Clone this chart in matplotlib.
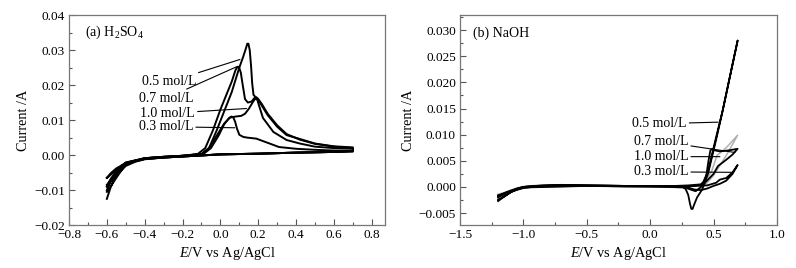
import numpy as np
import matplotlib
matplotlib.use('Agg')
import matplotlib.pyplot as plt
from matplotlib.ticker import MultipleLocator

plt.rcParams['font.family'] = ['Liberation Serif', 'DejaVu Serif']
plt.rcParams['mathtext.fontset'] = 'custom'
plt.rcParams['mathtext.rm'] = 'Liberation Serif'
plt.rcParams['mathtext.it'] = 'Liberation Serif:italic'

# ---------------- (a) H2SO4 : full CV loops (forward + reverse) ----------------
h_05_x = [-0.6, -0.58, -0.55, -0.5, -0.45, -0.4, -0.3, -0.2, -0.1, 0.0, 0.2, 0.4, 0.6, 0.7,
          0.7, 0.6, 0.5, 0.42, 0.35, 0.3, 0.25, 0.22, 0.2, 0.185, 0.175, 0.168, 0.162, 0.155, 0.148, 0.142, 0.135, 0.12,
          0.1, 0.06, 0.02, -0.02, -0.06, -0.1, -0.2, -0.3, -0.4, -0.5, -0.6]
h_05_y = [-0.0125, -0.0092, -0.0058, -0.0031, -0.0019, -0.0012, -0.0007, -0.0004, -0.0001, 0.0002, 0.0004, 0.0007, 0.0009, 0.001,
          0.0022, 0.0025, 0.0033, 0.0046, 0.0057, 0.0081, 0.0114, 0.0140, 0.0158, 0.0166, 0.0172, 0.0205, 0.0255, 0.0300, 0.0318, 0.0318, 0.0305, 0.0280,
          0.025, 0.018, 0.0125, 0.007, 0.002, 0.0003, -0.0002, -0.0005, -0.0009, -0.0025, -0.0105]

h_07_x = [-0.6, -0.58, -0.55, -0.5, -0.45, -0.4, -0.3, -0.2, -0.1, 0.0, 0.2, 0.4, 0.6, 0.7,
          0.7, 0.6, 0.5, 0.42, 0.35, 0.3, 0.25, 0.22, 0.2, 0.19, 0.18, 0.165, 0.145, 0.13, 0.118, 0.108, 0.098, 0.09, 0.08,
          0.06, 0.03, 0.0, -0.04, -0.08, -0.12, -0.2, -0.3, -0.4, -0.5, -0.6]
h_07_y = [-0.010, -0.0075, -0.0050, -0.0028, -0.0018, -0.0011, -0.0007, -0.0004, -0.0001, 0.0002, 0.0004, 0.0007, 0.0009, 0.0011,
          0.0020, 0.0024, 0.0032, 0.0044, 0.0060, 0.0085, 0.0118, 0.0145, 0.0160, 0.0165, 0.0163, 0.0153, 0.0150, 0.0160, 0.0200, 0.0235, 0.0252, 0.0252, 0.0243,
          0.021, 0.017, 0.013, 0.007, 0.002, 0.0003, -0.0002, -0.0005, -0.0009, -0.0023, -0.009]

h_10_x = [-0.6, -0.58, -0.55, -0.5, -0.45, -0.4, -0.3, -0.2, -0.1, 0.0, 0.2, 0.4, 0.6, 0.7,
          0.7, 0.6, 0.5, 0.42, 0.35, 0.28, 0.225, 0.205, 0.195, 0.185, 0.17, 0.15, 0.13, 0.11, 0.08, 0.05,
          0.02, -0.02, -0.06, -0.1, -0.2, -0.3, -0.4, -0.5, -0.6]
h_10_y = [-0.009, -0.0068, -0.0046, -0.0026, -0.0017, -0.0011, -0.0007, -0.0004, -0.0001, 0.0002, 0.0004, 0.0007, 0.0009, 0.0012,
          0.0018, 0.0020, 0.0024, 0.0033, 0.0043, 0.0066, 0.0106, 0.0140, 0.0158, 0.0162, 0.0150, 0.0132, 0.0118, 0.0112, 0.0110, 0.0107,
          0.009, 0.0055, 0.002, 0.0003, -0.0002, -0.0005, -0.0009, -0.0022, -0.0085]

h_03_x = [-0.6, -0.58, -0.55, -0.5, -0.45, -0.4, -0.3, -0.2, -0.1, 0.0, 0.2, 0.4, 0.6, 0.7,
          0.7, 0.6, 0.5, 0.4, 0.31, 0.25, 0.19, 0.14, 0.12, 0.1, 0.088, 0.078, 0.068, 0.058, 0.045, 0.02,
          -0.01, -0.05, -0.09, -0.2, -0.3, -0.4, -0.5, -0.6]
h_03_y = [-0.0065, -0.0052, -0.0038, -0.0023, -0.0016, -0.0011, -0.0007, -0.0004, -0.0001, 0.0002, 0.0004, 0.0007, 0.0009, 0.0012,
          0.0012, 0.0013, 0.0015, 0.0018, 0.0023, 0.0035, 0.0047, 0.0050, 0.0052, 0.0058, 0.0075, 0.0095, 0.0108, 0.0110, 0.0105, 0.0088,
          0.0055, 0.002, 0.0003, -0.0002, -0.0005, -0.0009, -0.0021, -0.0065]

# ---------------- (b) NaOH ----------------
n_05_x = [-1.2, -1.15, -1.1, -1.05, -1.0, -0.9, -0.7, -0.5, -0.2, 0.0, 0.2, 0.3, 0.4, 0.42, 0.456, 0.52, 0.572, 0.63, 0.69,
          0.69, 0.63, 0.572, 0.52, 0.456, 0.41, 0.37, 0.345, 0.335, 0.325, 0.315, 0.3, 0.28, 0.25, 0.1, -0.2, -0.5, -0.8, -1.0, -1.05, -1.1, -1.15, -1.2]
n_05_y = [-0.0027, -0.0018, -0.0010, -0.0004, 0.0, 0.0002, 0.0004, 0.0003, 0.0002, 0.0002, 0.0002, 0.0003, 0.0005, 0.0010, 0.0030, 0.0095, 0.0146, 0.0212, 0.0280,
          0.0280, 0.0212, 0.0146, 0.0090, 0.0025, -0.0005, -0.0020, -0.0035, -0.0042, -0.0042, -0.0033, -0.0015, -0.0004, 0.0001, 0.0001, 0.0001, 0.0002, 0.0002, -0.0001, -0.0005, -0.0010, -0.0018, -0.0024]

n_07_x = [-1.2, -1.15, -1.1, -1.05, -1.0, -0.9, -0.7, -0.5, -0.2, 0.0, 0.2, 0.35, 0.42, 0.5, 0.535, 0.6, 0.65, 0.69,
          0.69, 0.62, 0.55, 0.51, 0.49, 0.475, 0.46, 0.445, 0.43, 0.4, 0.36, 0.32, 0.25, 0.0, -0.5, -0.9, -1.0, -1.1, -1.2]
n_07_y = [-0.0020, -0.0014, -0.0008, -0.0003, 0.0, 0.0002, 0.0004, 0.0003, 0.0002, 0.0002, 0.0002, 0.0002, 0.0005, 0.0025, 0.0040, 0.0052, 0.0062, 0.0073,
          0.0073, 0.0070, 0.0068, 0.0070, 0.0073, 0.0070, 0.0050, 0.0025, 0.0010, 0.0000, -0.0008, -0.0005, 0.0001, 0.0001, 0.0002, 0.0001, -0.0002, -0.0009, -0.0017]

n_10_x = [-1.2, -1.15, -1.1, -1.05, -1.0, -0.9, -0.7, -0.5, -0.2, 0.0, 0.2, 0.35, 0.42, 0.485, 0.527, 0.6, 0.69,
          0.69, 0.6, 0.5, 0.45, 0.4, 0.35, 0.3, 0.0, -0.5, -1.0, -1.1, -1.2]
n_10_y = [-0.0016, -0.0011, -0.0006, -0.0002, 0.0001, 0.0003, 0.0004, 0.0003, 0.0002, 0.0002, 0.0002, 0.0002, 0.0006, 0.0030, 0.0060, 0.0075, 0.0099,
          0.0099, 0.0060, 0.0022, 0.0008, -0.0002, -0.0008, -0.0002, 0.0001, 0.0002, -0.0001, -0.0007, -0.0014]

n_03_x = [-1.2, -1.15, -1.1, -1.05, -1.0, -0.9, -0.7, -0.5, -0.2, 0.0, 0.2, 0.35, 0.45, 0.52, 0.55, 0.58, 0.6, 0.65, 0.69,
          0.69, 0.65, 0.6, 0.55, 0.5, 0.45, 0.4, 0.35, 0.3, 0.0, -0.5, -1.0, -1.1, -1.2]
n_03_y = [-0.0018, -0.0012, -0.0007, -0.0003, 0.0, 0.0002, 0.0004, 0.0003, 0.0002, 0.0002, 0.0002, 0.0002, 0.0003, 0.0008, 0.0014, 0.0016, 0.0017, 0.0028, 0.0042,
          0.0042, 0.0025, 0.0012, 0.0006, 0.0002, -0.0003, -0.0006, -0.0005, -0.0001, 0.0001, 0.0002, -0.0001, -0.0008, -0.0016]

conc_labels = ['0.5 mol/L', '0.7 mol/L', '1.0 mol/L', '0.3 mol/L']

fig = plt.figure(figsize=(7.96, 2.68), dpi=100)
ax1 = fig.add_axes([0.0867, 0.160, 0.397, 0.784])
ax2 = fig.add_axes([0.578, 0.160, 0.398, 0.784])

for xs, ys in [(h_05_x, h_05_y), (h_07_x, h_07_y), (h_10_x, h_10_y), (h_03_x, h_03_y)]:
    ax1.plot(xs, ys, color='black', lw=1.4, solid_joinstyle='round')

ax2.plot(n_10_x, n_10_y, color='#b0b0b0', lw=1.1)
for xs, ys in [(n_03_x, n_03_y), (n_07_x, n_07_y), (n_05_x, n_05_y)]:
    ax2.plot(xs, ys, color='black', lw=1.3, solid_joinstyle='round')

# label leaders, panel a
lead_a = [((-0.126, 0.0209), (0.103, 0.0273)),
          ((-0.144, 0.0162), (0.085, 0.0252)),
          ((-0.135, 0.0119), (0.138, 0.0133)),
          ((-0.144, 0.0081), (0.076, 0.0078))]
for lab, (p0, p1) in zip(conc_labels, lead_a):
    ax1.annotate(lab, xy=p1, xytext=p0, ha='right', va='center', fontsize=10,
                 arrowprops=dict(arrowstyle='-', color='black', lw=0.8, shrinkA=0, shrinkB=0))

lead_b = [((0.287, 0.0121), (0.537, 0.0124)),
          ((0.30, 0.0087), (0.669, 0.0066)),
          ((0.30, 0.0058), (0.55, 0.0058)),
          ((0.30, 0.0029), (0.642, 0.0028))]
for lab, (p0, p1) in zip(conc_labels, lead_b):
    ax2.annotate(lab, xy=p1, xytext=p0, ha='right', va='center', fontsize=10,
                 arrowprops=dict(arrowstyle='-', color='black', lw=0.8, shrinkA=0, shrinkB=0))

ax1.text(-0.716, 0.0351, r'(a) H$_2$SO$_4$', fontsize=10, va='center', ha='left')
ax2.text(-1.397, 0.0294, '(b) NaOH', fontsize=10, va='center', ha='left')

ax1.set_xlim(-0.8, 0.87)
ax1.set_ylim(-0.02, 0.04)
ax1.xaxis.set_minor_locator(MultipleLocator(0.1))
ax1.yaxis.set_minor_locator(MultipleLocator(0.005))
ax1.set_xticks(np.arange(-0.8, 0.81, 0.2))
ax1.set_xticklabels(['\u22120.8', '\u22120.6', '\u22120.4', '\u22120.2', '0.0', '0.2', '0.4', '0.6', '0.8'])
ax1.set_yticks(np.arange(-0.02, 0.041, 0.01))
ax1.set_yticklabels(['\u22120.02', '\u22120.01', '0.00', '0.01', '0.02', '0.03', '0.04'])

ax2.set_xlim(-1.5, 1.0)
ax2.set_ylim(-0.0073, 0.0329)
ax2.xaxis.set_minor_locator(MultipleLocator(0.25))
ax2.yaxis.set_minor_locator(MultipleLocator(0.0025))
ax2.set_xticks(np.arange(-1.5, 1.01, 0.5))
ax2.set_xticklabels(['\u22121.5', '\u22121.0', '\u22120.5', '0.0', '0.5', '1.0'])
ax2.set_yticks(np.arange(-0.005, 0.0301, 0.005))
ax2.set_yticklabels(['\u22120.005', '0.000', '0.005', '0.010', '0.015', '0.020', '0.025', '0.030'])

for ax in (ax1, ax2):
    ax.tick_params(which='both', direction='in', labelsize=9.5, color='#555555', pad=3)
    ax.tick_params(which='major', length=4, width=0.8)
    ax.tick_params(which='minor', length=2, width=0.8)
    for sp in ax.spines.values():
        sp.set_color('#777777')
        sp.set_linewidth(0.9)
    ax.set_xlabel(r'$\it{E}$/V vs Ag/AgCl', fontsize=10.3, labelpad=3)
    ax.set_ylabel('Current /A', fontsize=10.3, labelpad=3)

fig.savefig('out.png', dpi=100)
